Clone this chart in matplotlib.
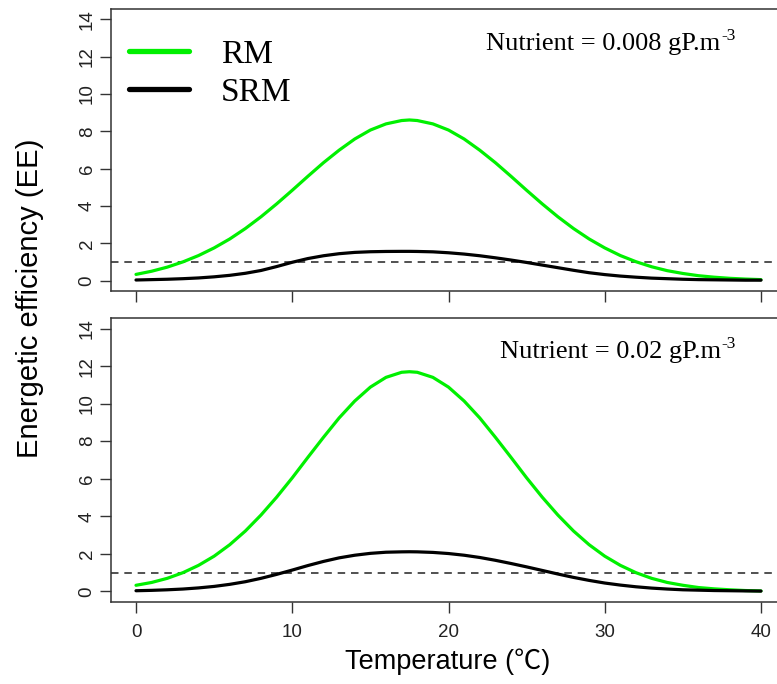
import numpy as np
import matplotlib
matplotlib.use("Agg")
import matplotlib.pyplot as plt

# temperature grid (deg C) and values
temperature = [0, 1, 2, 3, 4, 5, 6, 7, 8, 9, 10, 11, 12, 13, 14, 15, 16, 17, 17.5,
               18, 19, 20, 21, 22, 23, 24, 25, 26, 27, 28, 29, 30, 31, 32, 33,
               34, 35, 36, 37, 38, 39, 40]

rm_low = [0.33, 0.50, 0.72, 1.00, 1.34, 1.75, 2.23, 2.79, 3.42, 4.11,
          4.84, 5.59, 6.32, 6.99, 7.59, 8.07, 8.40, 8.58, 8.61, 8.58, 8.40,
          8.07, 7.59, 6.99, 6.32, 5.59, 4.84, 4.11, 3.42, 2.79, 2.23,
          1.75, 1.34, 1.01, 0.74, 0.53, 0.38, 0.26, 0.18, 0.12, 0.08, 0.05]
srm_low = [0.03, 0.05, 0.07, 0.10, 0.14, 0.20, 0.28, 0.39, 0.54, 0.75,
           0.98, 1.18, 1.33, 1.44, 1.51, 1.545, 1.56, 1.565, 1.565, 1.56, 1.54,
           1.49, 1.42, 1.33, 1.22, 1.10, 0.97, 0.83, 0.69, 0.55, 0.42,
           0.32, 0.24, 0.18, 0.13, 0.10, 0.07, 0.05, 0.04, 0.03, 0.02, 0.02]

rm_high = [0.33, 0.48, 0.70, 1.00, 1.39, 1.88, 2.49, 3.22, 4.07, 5.02,
           6.05, 7.14, 8.21, 9.24, 10.14, 10.88, 11.40, 11.67, 11.70, 11.67, 11.40,
           10.88, 10.14, 9.24, 8.21, 7.14, 6.05, 5.02, 4.07, 3.22, 2.49,
           1.88, 1.39, 1.00, 0.70, 0.48, 0.33, 0.21, 0.14, 0.09, 0.05, 0.03]
srm_high = [0.04, 0.06, 0.09, 0.13, 0.19, 0.27, 0.38, 0.52, 0.70, 0.91,
            1.14, 1.38, 1.60, 1.79, 1.93, 2.03, 2.09, 2.11, 2.115, 2.11, 2.08,
            2.02, 1.93, 1.81, 1.66, 1.49, 1.31, 1.12, 0.93, 0.75, 0.59,
            0.45, 0.34, 0.25, 0.18, 0.13, 0.09, 0.07, 0.05, 0.04, 0.03, 0.02]

threshold = 1.0
x_ticks = [0, 10, 20, 30, 40]
y_ticks = [0, 2, 4, 6, 8, 10, 12, 14]
panel_labels = ["Nutrient = 0.008 gP.m", "Nutrient = 0.02 gP.m"]
unit_power = "-3"

plt.rcParams["font.family"] = ["Liberation Sans", "Noto Sans CJK SC", "DejaVu Sans"]

W, H = 777, 684
fig = plt.figure(figsize=(W / 100, H / 100), dpi=100)

def rect(left, top, right, bottom):
    return [left / W, 1 - bottom / H, (right - left) / W, (bottom - top) / H]

ax_top = fig.add_axes(rect(111, 9, 786, 291))
ax_bot = fig.add_axes(rect(111, 318, 786, 602))

green = "#00F000"
label_rows = [44, 352]
label_right = 735
for ax, rm, srm, lab, row in [(ax_top, rm_low, srm_low, panel_labels[0], label_rows[0]),
                              (ax_bot, rm_high, srm_high, panel_labels[1], label_rows[1])]:
    ax.axhline(threshold, color="#333333", lw=1.2, ls=(0, (4.5, 3.5)))
    ax.plot(temperature, rm, color=green, lw=2.3, label="RM", solid_capstyle="round")
    ax.plot(temperature, srm, color="black", lw=2.3, label="SRM", solid_capstyle="round")
    ax.set_xlim(-1.6, 41.6)
    ax.set_ylim(-0.56, 14.56)
    ax.set_xticks(x_ticks)
    ax.set_yticks(y_ticks)
    ax.set_yticklabels([str(v) for v in y_ticks], rotation=90, va="center")
    ax.tick_params(direction="out", length=8, width=1, colors="#333333",
                   labelsize=13.5, labelcolor="#222222")
    ax.tick_params(axis="y", pad=3)
    ax.tick_params(axis="x", pad=8)
    for s in ax.spines.values():
        s.set_color("#333333")
        s.set_linewidth(1.1)

    # nutrient label with a small raised "-3", right edge at label_right
    t = fig.text(0, 1 - row / H, lab, ha="left", va="center",
                 family="Liberation Serif", fontsize=19)
    sup = fig.text(0, 0, unit_power, ha="left", va="center",
                   family="Liberation Serif", fontsize=12.5)
    fig.canvas.draw()
    r = fig.canvas.get_renderer()
    w_main = t.get_window_extent(r).width
    w_sup = sup.get_window_extent(r).width
    x0 = label_right - w_main - w_sup
    t.set_x(x0 / W)
    bb = t.get_window_extent(r)
    sup.set_position(((x0 + w_main + 0.5) / W, (bb.y1 - 3) / H))

ax_top.tick_params(axis="x", labelbottom=False)

leg = ax_top.legend(loc="upper left", bbox_to_anchor=(116 / W, 1 - 26 / H),
                    bbox_transform=fig.transFigure, frameon=False,
                    prop={"family": "Liberation Serif", "size": 24},
                    handlelength=1.8, handletextpad=0.95, labelspacing=0.22,
                    borderaxespad=0)
for h in leg.legend_handles:
    h.set_linewidth(3.8)
    h.set_solid_capstyle("round")

fig.text(30 / W, 1 - 298 / H, "Energetic efficiency (EE)", rotation=90,
         ha="center", va="center", fontsize=21)
fig.text(448 / W, 1 - 662 / H, "Temperature (\u2103)", ha="center", va="center",
         fontsize=19.5)

fig.savefig("out.png", dpi=100)
